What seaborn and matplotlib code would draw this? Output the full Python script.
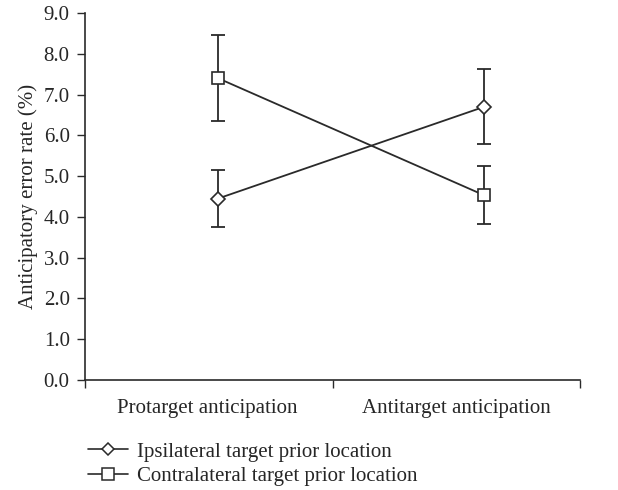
import matplotlib
matplotlib.use("Agg")
import matplotlib.pyplot as plt
import seaborn as sns
import pandas as pd
from matplotlib.lines import Line2D

conditions = ["Protarget anticipation", "Antitarget anticipation"]
ipsi_mean = [4.45, 6.70]
ipsi_err = [0.70, 0.92]
contra_mean = [7.40, 4.53]
contra_err = [1.06, 0.71]
series = ["Ipsilateral target prior location", "Contralateral target prior location"]
yticks = [0.0, 1.0, 2.0, 3.0, 4.0, 5.0, 6.0, 7.0, 8.0, 9.0]

df = pd.DataFrame({
    "x": list(range(len(conditions))) * 2,
    "mean": ipsi_mean + contra_mean,
    "err": ipsi_err + contra_err,
    "series": [series[0]] * len(conditions) + [series[1]] * len(conditions),
})

sns.set_style("ticks")
plt.rcParams["font.family"] = ["Liberation Serif", "DejaVu Serif"]

col = "#2a2a2a"
fig = plt.figure(figsize=(6.18, 4.90), dpi=100)
ax = fig.add_axes([85 / 618, 1 - 380 / 490, 495 / 618, 367 / 490])

markers = {series[0]: "D", series[1]: "s"}
msizes = {series[0]: 7.5, series[1]: 9}
for s in series:
    d = df[df["series"] == s]
    ax.errorbar(d["x"], d["mean"], yerr=d["err"], fmt="none", ecolor=col,
                elinewidth=1.3, capsize=5, capthick=1.3, zorder=1)
    sns.lineplot(data=d, x="x", y="mean", ax=ax, color=col, linewidth=1.3,
                 marker=markers[s], markersize=msizes[s], markerfacecolor="white",
                 markeredgecolor=col, markeredgewidth=1.2, legend=False, zorder=3)

ax.set_xlim(-0.5, 1.36)
ax.set_ylim(0, 9)
ax.set_yticks(yticks)
ax.set_yticklabels([f"{v:.1f}" for v in yticks], fontsize=15)
ax.set_xticks([-0.5, 0.43, 1.36])
ax.set_xticklabels([])
ax.set_xticks([-0.04, 0.895], minor=True)
ax.set_xticklabels(conditions, minor=True, fontsize=15)
ax.tick_params(axis="x", which="minor", length=0, pad=14)
ax.tick_params(axis="both", which="major", length=6, width=1, color=col, pad=5)
ax.set_xlabel("")
ax.set_ylabel("Anticipatory error rate (%)", fontsize=15, labelpad=4)
for sp in ["top", "right"]:
    ax.spines[sp].set_visible(False)
for sp in ["left", "bottom"]:
    ax.spines[sp].set_color(col)
    ax.spines[sp].set_linewidth(1.2)

handles = [Line2D([], [], color=col, lw=1.2, marker=markers[s], markersize=msizes[s] - 1,
                  markerfacecolor="white", markeredgecolor=col, markeredgewidth=1.1)
           for s in series]
fig.legend(handles, series, loc="upper left", bbox_to_anchor=(88 / 618, 1 - 442 / 490),
           frameon=False, fontsize=15, handlelength=1.9, handletextpad=0.45,
           labelspacing=0.25, borderaxespad=0, borderpad=0)

fig.savefig("out.png", dpi=100)
